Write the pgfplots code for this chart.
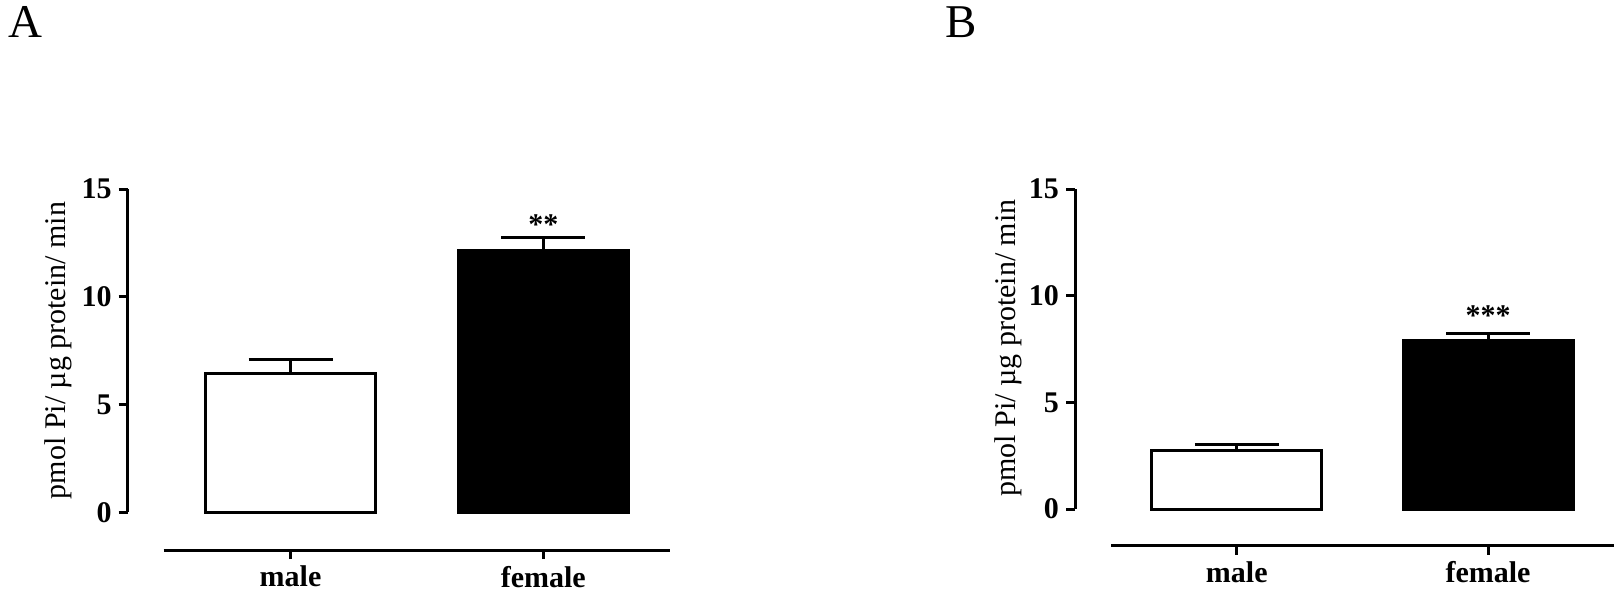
\documentclass[border=0pt]{standalone}
\usepackage{fontspec}
\setmainfont{Liberation Serif}
\usepackage{pgfplots}
\pgfplotsset{compat=1.18}
\pgfplotsset{
  gp/.style={
    scale only axis,
    separate axis lines,
    axis x line*=bottom,
    axis y line*=left,
    x axis line style={line width=1.5pt, shorten <=18pt},
    every tick/.style={black, line width=1.5pt},
    tick align=outside,
    major tick length=4.5pt,
    xtick={0,1},
    xticklabels={male,female},
    ytick={0,5,10,15},
    xmin=-0.644, xmax=1.5,
    ymax=15,
    ticklabel style={font=\fontsize{15}{18}\selectfont\bfseries},
    /pgf/number format/assume math mode=true,
    ylabel={pmol Pi/ µg protein/ min},
    ylabel style={font=\fontsize{15}{18}\selectfont, anchor=center},
    clip=false,
  },
  mbar/.style={ybar, bar width=85pt, bar shift=0pt, draw=black, line width=1.5pt,
    error bars/y dir=plus, error bars/y explicit,
    error bars/error bar style={line width=1.5pt, black},
    error bars/error mark options={rotate=90, mark size=21pt, line width=1.5pt, black}},
}
\begin{document}
\begin{tikzpicture}
\useasboundingbox (0,0) rectangle (812pt,-297pt);
\node[anchor=base west, inner sep=0pt, font=\fontsize{23.5}{28}\selectfont] at (4pt,-19pt) {A};
\node[anchor=base west, inner sep=0pt, font=\fontsize{23.5}{28}\selectfont] at (472.5pt,-19pt) {B};

\begin{axis}[gp,
  at={(63.85pt,-275pt)}, anchor=south west,
  width=271pt, height=180.5pt,
  ymin=-1.749,
  y axis line style={line width=1.5pt, shorten <=18.85pt},
  ylabel style={at={(axis description cs:-0.1286,0.5526)}},
]
\addplot[mbar, fill=white] coordinates {(0,6.42) +- (0,0.68)};
\addplot[mbar, fill=black] coordinates {(1,12.17) +- (0,0.59)};
\node[anchor=base, font=\fontsize{15}{18}\selectfont\bfseries] at (axis cs:1,12.9) {**};
\end{axis}

\begin{axis}[gp,
  at={(537.5pt,-272.85pt)}, anchor=south west,
  width=269.3pt, height=178.35pt,
  ymin=-1.72,
  y axis line style={line width=1.5pt, shorten <=18.35pt},
  ylabel style={at={(axis description cs:-0.1244,0.554)}},
]
\addplot[mbar, fill=white] coordinates {(0,2.72) +- (0,0.31)};
\addplot[mbar, fill=black] coordinates {(1,7.92) +- (0,0.32)};
\node[anchor=base, font=\fontsize{15}{18}\selectfont\bfseries] at (axis cs:1,8.58) {***};
\end{axis}
\end{tikzpicture}
\end{document}
